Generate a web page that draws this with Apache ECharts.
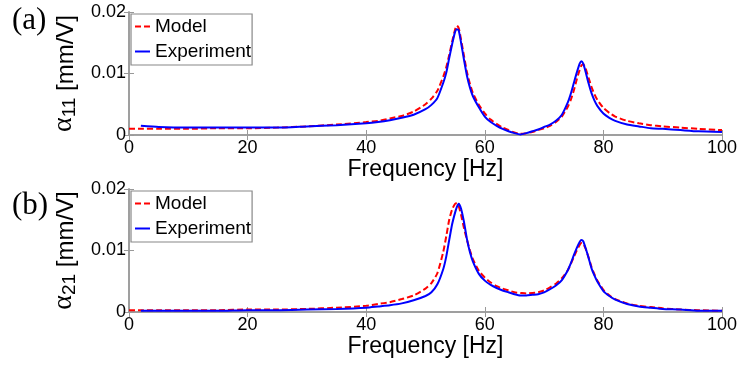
<!DOCTYPE html>
<html>
<head>
<meta charset="utf-8">
<script src="https://cdn.jsdelivr.net/npm/echarts@6/dist/echarts.min.js"></script>
<style>
html,body{margin:0;padding:0;background:#fff;}
#chart{width:740px;height:367px;}
</style>
</head>
<body>
<div id="chart"></div>
<script>
// Frequency grid [Hz]
var freq = [0,2,5,10,15,20,25,30,35,40,42,44,46,48,50,51,52,53,53.5,54,54.5,55,55.3,55.6,56,56.5,57,57.5,58,59,60,61,62,63,64,65,66,67,68,69,70,71,72,73,74,74.5,75,75.5,76,76.3,76.6,77,77.5,78,78.5,79,80,81,82,84,86,88,90,93,96,100];

// Panel (a): alpha_11 [mm/V]
var a11Model = [0.0010,0.0010,0.0010,0.0010,0.0011,0.0011,0.0012,0.0014,0.0017,0.0021,0.0023,0.0027,0.0031,0.0038,0.0050,0.0059,0.0072,0.0095,0.0110,0.0130,0.0152,0.0172,0.0178,0.0174,0.0155,0.0128,0.0102,0.0083,0.0068,0.0049,0.0035,0.0025,0.0018,0.0012,0.0008,0.0004,0.0002,0.0003,0.0005,0.0008,0.0011,0.0015,0.0021,0.0030,0.0046,0.0057,0.0072,0.0090,0.0106,0.0113,0.0115,0.0108,0.0093,0.0078,0.0066,0.0057,0.0044,0.0036,0.0030,0.0023,0.0019,0.0016,0.0014,0.0012,0.0010,0.0008];
var a11Exp = [null,0.0015,0.0013,0.0012,0.0012,0.0012,0.0012,0.0014,0.0016,0.0019,0.0021,0.0024,0.0028,0.0033,0.0042,0.0049,0.0060,0.0085,0.0101,0.0125,0.0148,0.0168,0.0172,0.0170,0.0150,0.0122,0.0096,0.0077,0.0063,0.0045,0.0030,0.0021,0.0015,0.0010,0.0006,0.0003,0.0001,0.0003,0.0006,0.0009,0.0013,0.0017,0.0023,0.0033,0.0053,0.0067,0.0084,0.0101,0.0116,0.0120,0.0116,0.0103,0.0084,0.0068,0.0056,0.0047,0.0035,0.0028,0.0023,0.0017,0.0014,0.0011,0.0010,0.0008,0.0006,0.0005];

// Panel (b): alpha_21 [mm/V]
var a21Model = [0.0003,0.0003,0.0003,0.0003,0.0003,0.0004,0.0004,0.0005,0.0007,0.0010,0.0013,0.0016,0.0021,0.0027,0.0038,0.0047,0.0063,0.0098,0.0123,0.0150,0.0167,0.0176,0.0177,0.0172,0.0158,0.0136,0.0117,0.0100,0.0086,0.0067,0.0056,0.0048,0.0042,0.0038,0.0035,0.0032,0.0031,0.0030,0.0031,0.0032,0.0035,0.0040,0.0046,0.0055,0.0068,0.0078,0.0089,0.0100,0.0109,0.0112,0.0111,0.0103,0.0089,0.0073,0.0061,0.0051,0.0036,0.0027,0.0021,0.0014,0.0010,0.0008,0.0006,0.0004,0.0003,0.0002];
var a21Exp = [null,0.0002,0.0002,0.0002,0.0002,0.0003,0.0003,0.0004,0.0005,0.0007,0.0009,0.0011,0.0014,0.0019,0.0026,0.0032,0.0045,0.0070,0.0090,0.0117,0.0143,0.0162,0.0171,0.0176,0.0168,0.0146,0.0118,0.0097,0.0082,0.0062,0.0051,0.0044,0.0039,0.0035,0.0032,0.0029,0.0027,0.0027,0.0028,0.0029,0.0032,0.0037,0.0043,0.0052,0.0068,0.0079,0.0092,0.0104,0.0114,0.0117,0.0115,0.0104,0.0088,0.0071,0.0059,0.0049,0.0034,0.0026,0.0020,0.0013,0.0009,0.0007,0.0005,0.0004,0.0002,0.0002];

var xTicks = [0,20,40,60,80,100];
var yTicks = [0,0.01,0.02];
var seriesNames = ['Model','Experiment'];

function pairs(x, y){ var out=[]; for(var i=0;i<x.length;i++){ out.push([x[i], y[i]]); } return out; }

var axisCol = '#999999';
var font = 'Liberation Sans, Arial, sans-serif';

function xAxes(gi){
  return [{
    type:'value', gridIndex:gi, min:xTicks[0], max:xTicks[xTicks.length-1], interval:20,
    axisLine:{lineStyle:{color:axisCol,width:1.5}},
    axisTick:{inside:true,length:5,lineStyle:{color:axisCol}},
    axisLabel:{color:'#000',fontSize:18,fontFamily:font,margin:4,showMinLabel:true,showMaxLabel:true},
    splitLine:{show:false},
    name:'Frequency [Hz]', nameLocation:'middle', nameGap:20,
    nameTextStyle:{color:'#000',fontSize:23,fontFamily:font}
  },{
    type:'value', gridIndex:gi, position:'top', min:0, max:100, interval:20,
    axisLine:{lineStyle:{color:axisCol,width:1.5}},
    axisTick:{inside:true,length:5,lineStyle:{color:axisCol}},
    axisLabel:{show:false}, splitLine:{show:false}
  }];
}
function yAxes(gi, sub){
  return [{
    type:'value', gridIndex:gi, min:yTicks[0], max:yTicks[yTicks.length-1], interval:0.01,
    axisLine:{show:true,lineStyle:{color:axisCol,width:1.5}},
    axisTick:{show:true,inside:true,length:5,lineStyle:{color:axisCol}},
    axisLabel:{color:'#000',fontSize:18,fontFamily:font,margin:3},
    splitLine:{show:false},
    name:'{a|α}{s|' + sub + '}{t| [mm/V]}', nameLocation:'middle', nameGap:50, nameRotate:90,
    nameTextStyle:{
      rich:{
        a:{fontSize:28,fontFamily:'Liberation Serif, serif',color:'#000',verticalAlign:'bottom',padding:[0,0,1,0]},
        s:{fontSize:19,fontFamily:font,color:'#000',verticalAlign:'bottom',padding:[0,0,0,0]},
        t:{fontSize:24,fontFamily:font,color:'#000',verticalAlign:'bottom',padding:[0,0,1,0]}
      }
    }
  },{
    type:'value', gridIndex:gi, position:'right', min:0, max:0.02, interval:0.01,
    axisLine:{show:true,lineStyle:{color:axisCol,width:1.5}},
    axisTick:{show:true,inside:true,length:5,lineStyle:{color:axisCol}},
    axisLabel:{show:false}, splitLine:{show:false}
  }];
}
function mkSeries(gi, yModel, yExp){
  return [{
    name:seriesNames[0], type:'line', xAxisIndex:gi*2, yAxisIndex:gi*2, data:pairs(freq,yModel),
    symbol:'none', showSymbol:false, smooth:0.2, connectNulls:false,
    lineStyle:{color:'#ff0000',width:2,type:[6,3]}, itemStyle:{color:'#ff0000'}, z:2
  },{
    name:seriesNames[1], type:'line', xAxisIndex:gi*2, yAxisIndex:gi*2, data:pairs(freq,yExp),
    symbol:'none', showSymbol:false, smooth:0.2,
    lineStyle:{color:'#0000ff',width:2}, itemStyle:{color:'#0000ff'}, z:3
  }];
}
function mkLegend(top){
  return {
    data:seriesNames, orient:'vertical', left:131, top:top,
    backgroundColor:'#fff', borderColor:'#888', borderWidth:1.2,
    padding:[3,1,4,3], itemGap:6, itemWidth:15, itemHeight:14,
    itemStyle:{opacity:0},
    textStyle:{color:'#000',fontSize:19,fontFamily:font},
    selectedMode:false
  };
}

var chart = echarts.init(document.getElementById('chart'), null, {renderer:'canvas'});
chart.setOption({
  animation:false,
  backgroundColor:'#fff',
  grid:[
    {left:129,right:16,top:12,height:123},
    {left:129,right:16,top:189,height:123}
  ],
  xAxis: xAxes(0).concat(xAxes(1)),
  yAxis: yAxes(0,'11').concat(yAxes(1,'21')),
  legend:[mkLegend(14), mkLegend(191)],
  graphic:[
    {type:'text', left:12, top:5, style:{text:'(a)', fontSize:31, fontFamily:'Liberation Serif, serif', fill:'#000'}},
    {type:'text', left:12, top:190, style:{text:'(b)', fontSize:31, fontFamily:'Liberation Serif, serif', fill:'#000'}}
  ],
  series: mkSeries(0,a11Model,a11Exp).concat(mkSeries(1,a21Model,a21Exp))
});
</script>
</body>
</html>
